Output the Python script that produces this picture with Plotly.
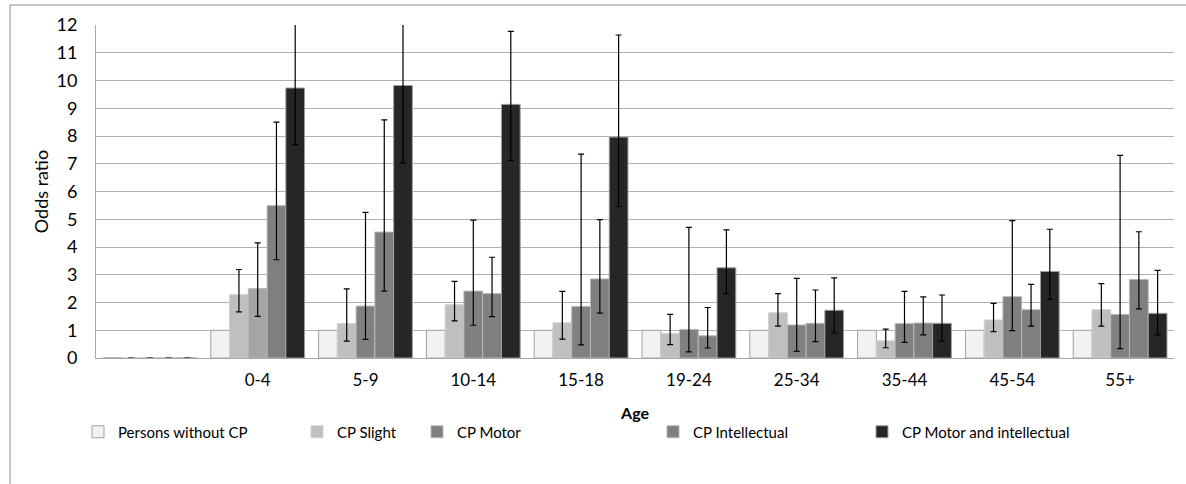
import plotly.graph_objects as go

categories = [" ", "0-4", "5-9", "10-14", "15-18", "19-24", "25-34", "35-44", "45-54", "55+"]

series_names = ["Persons without CP", "CP Slight", "CP Motor", "CP Intellectual", "CP Motor and intellectual"]

without_cp = [0, 1, 1, 1, 1, 1, 1, 1, 1, 1]

slight = [0, 2.28, 1.24, 1.92, 1.27, 0.88, 1.63, 0.62, 1.37, 1.74]
slight_hi = [None, 3.19, 2.49, 2.76, 2.40, 1.57, 2.32, 1.04, 1.97, 2.68]
slight_lo = [None, 1.66, 0.61, 1.34, 0.68, 0.48, 1.15, 0.37, 0.95, 1.15]

motor = [0, 2.50, 1.87, 2.41, 1.86, 1.03, 1.19, 1.24, 2.21, 1.57]
motor_hi = [None, 4.15, 5.25, 4.97, 7.35, 4.71, 2.87, 2.40, 4.95, 7.30]
motor_lo = [None, 1.50, 0.67, 1.18, 0.47, 0.22, 0.24, 0.56, 0.99, 0.34]

intellectual = [0, 5.49, 4.54, 2.32, 2.85, 0.80, 1.25, 1.26, 1.74, 2.83]
intellectual_hi = [None, 8.50, 8.58, 3.63, 4.99, 1.82, 2.45, 2.20, 2.65, 4.55]
intellectual_lo = [None, 3.54, 2.41, 1.49, 1.62, 0.36, 0.59, 0.83, 1.15, 1.77]

motor_int = [0, 9.73, 9.82, 9.14, 7.96, 3.25, 1.72, 1.25, 3.12, 1.61]
motor_int_hi = [None, 12.4, 12.4, 11.77, 11.64, 4.62, 2.89, 2.27, 4.64, 3.16]
motor_int_lo = [None, 7.69, 7.03, 7.12, 5.45, 2.31, 0.90, 0.60, 2.11, 0.83]

y_ticks = list(range(0, 13))

colors = ["#f2f2f2", "#bfbfbf", "#808080", "#7f7f7f", "#262626"]
motor_point_colors = ["#808080", "#a5a5a5"] + ["#808080"] * 8
line_colors = ["#a0a0a0", "#d0d0d0", "#b8b8b8", "#b8b8b8", "#a0a0a0"]

FONT = "Lato"


def err(vals, hi, lo):
    up = [None if h is None else h - v for v, h in zip(vals, hi)]
    dn = [None if l is None else v - l for v, l in zip(vals, lo)]
    return dict(type="data", symmetric=False, array=up, arrayminus=dn,
                color="#000000", thickness=1.2, width=3)


series = [
    (without_cp, None, None),
    (slight, slight_hi, slight_lo),
    (motor, motor_hi, motor_lo),
    (intellectual, intellectual_hi, intellectual_lo),
    (motor_int, motor_int_hi, motor_int_lo),
]

legend_ids = ["legend", "legend2", "legend3", "legend4", "legend5"]
legend_text_x = [118, 337, 457, 693, 902]

fig = go.Figure()
for i, (name, (vals, hi, lo)) in enumerate(zip(series_names, series)):
    mc = motor_point_colors if i == 2 else colors[i]
    kw = {}
    if hi is not None:
        kw["error_y"] = err(vals, hi, lo)
    fig.add_trace(go.Bar(
        x=categories, y=vals, name=name,
        marker=dict(color=mc, line=dict(color=line_colors[i], width=1)),
        legend=legend_ids[i],
        **kw,
    ))

W, H = 1186, 484
ml, mr, mt, mb = 96, 12, 25, 126
pw = W - ml - mr
ph = H - mt - mb

layout_legends = {}
for i, lid in enumerate(legend_ids):
    lx = (legend_text_x[i] - 40 - ml) / pw
    layout_legends[lid] = dict(
        x=lx, xanchor="left", y=(H - mb - 432) / ph, yanchor="middle",
        orientation="h", bgcolor="rgba(0,0,0,0)", borderwidth=0,
        font=dict(family=FONT, size=15, color="#000000"),
        itemwidth=30, tracegroupgap=0,
    )

fig.update_layout(
    width=W, height=H,
    margin=dict(l=ml, r=mr, t=mt, b=mb, pad=0),
    paper_bgcolor="white", plot_bgcolor="white",
    barmode="group", bargap=0.13, bargroupgap=0,
    showlegend=True,
    font=dict(family=FONT, color="#000000"),
    **layout_legends,
)

fig.update_xaxes(
    type="category",
    showgrid=False, showline=True, linecolor="#a6a6a6", linewidth=1,
    ticks="", tickfont=dict(family=FONT, size=17, color="#000000"),
    ticklabelstandoff=7,
    title=dict(text="<b>Age</b>", font=dict(family=FONT, size=16, color="#000000"), standoff=18),
)
fig.update_yaxes(
    range=[0, 12], tickvals=y_ticks, ticktext=[str(t) for t in y_ticks],
    showgrid=True, gridcolor="#b0b0b0", gridwidth=1,
    zeroline=False, showline=True, linecolor="#a6a6a6", linewidth=1,
    ticks="", tickfont=dict(family=FONT, size=18, color="#000000"),
    ticklabelstandoff=14,
    title=dict(text="Odds ratio", font=dict(family=FONT, size=18, color="#000000"), standoff=3),
)

# outer chart-area border (cropped on the right and bottom)
fig.add_shape(type="rect", xref="paper", yref="paper",
              x0=(10 - ml) / pw, x1=(W + 5 - ml) / pw,
              y0=(H - mb - (H + 5)) / ph, y1=(H - mb - 5) / ph,
              line=dict(color="#8c8c8c", width=1), fillcolor="rgba(0,0,0,0)", layer="below")

fig.write_html("out.html", config={"displayModeBar": False},
               post_script="document.body.style.margin='0';document.body.style.padding='0';")
